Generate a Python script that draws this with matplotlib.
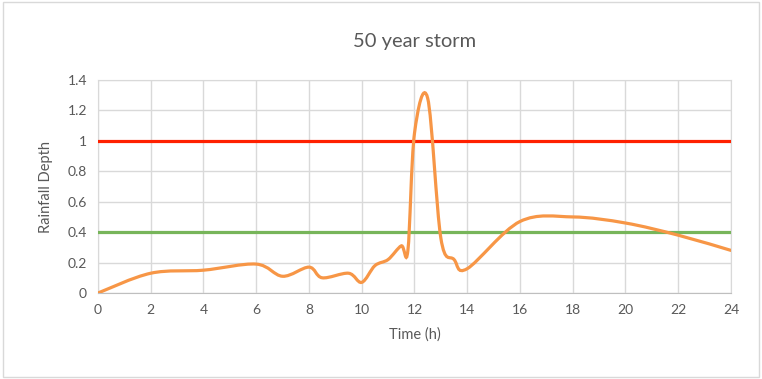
import numpy as np
import matplotlib
matplotlib.use("Agg")
import matplotlib.pyplot as plt
from matplotlib.path import Path
from matplotlib.patches import PathPatch, Rectangle

# rainfall depth per hour (50 year design storm)
hours = [0, 2, 4, 6, 7, 8, 8.5, 9.5, 10, 10.5, 11, 11.5, 11.75, 12, 12.5,
         13, 13.5, 14, 16, 18, 20, 22, 24]
depth = [0, 0.13, 0.15, 0.19, 0.11, 0.17, 0.10, 0.13, 0.07, 0.18, 0.22, 0.31,
         0.28, 1.05, 1.28, 0.36, 0.22, 0.16, 0.47, 0.50, 0.46, 0.38, 0.28]
upper_limit = 1.0
lower_limit = 0.4
x_ticks = list(range(0, 25, 2))
y_ticks = [0, 0.2, 0.4, 0.6, 0.8, 1, 1.2, 1.4]
y_labels = ["0", "0.2", "0.4", "0.6", "0.8", "1", "1.2", "1.4"]

TXT = "#595959"
plt.rcParams["font.family"] = ["Lato", "DejaVu Sans"]


def smooth_path(ax, xs, ys):
    """cubic bezier through the points (catmull-rom style tangents), in pixel space"""
    pts = ax.transData.transform(np.column_stack([xs, ys]))
    n = len(pts)
    verts = [pts[0]]
    codes = [Path.MOVETO]
    for i in range(n - 1):
        p0 = pts[max(i - 1, 0)]
        p1 = pts[i]
        p2 = pts[i + 1]
        p3 = pts[min(i + 2, n - 1)]
        c1 = p1 + (p2 - p0) / 6.0
        c2 = p2 - (p3 - p1) / 6.0
        verts += [c1, c2, p2]
        codes += [Path.CURVE4] * 3
    return Path(verts, codes)


fig = plt.figure(figsize=(7.62, 3.79), dpi=100)
fig.patches.append(Rectangle((0.004, 0.006), 0.992, 0.988, transform=fig.transFigure,
                             fill=False, edgecolor="#D9D9D9", lw=1))
ax = fig.add_axes([0.1286, 0.2269, 0.8307, 0.5620])
ax.set_xlim(0, 24)
ax.set_ylim(0, 1.4)
ax.set_xticks(x_ticks)
ax.set_yticks(y_ticks)
ax.set_yticklabels(y_labels)
ax.grid(True, color="#D9D9D9", lw=1)
ax.set_axisbelow(True)
for s in ["top", "right", "left"]:
    ax.spines[s].set_color("#D9D9D9")
ax.spines["bottom"].set_color("#BFBFBF")
ax.tick_params(length=0, labelsize=10, colors=TXT, pad=8)

ax.axhline(upper_limit, color="#FF2000", lw=2.3, zorder=3)
ax.axhline(lower_limit, color="#77B55A", lw=2.3, zorder=3)

fig.canvas.draw()
ax.add_patch(PathPatch(smooth_path(ax, hours, depth), transform=None, fill=False,
                       edgecolor="#F79646", lw=2.3, zorder=4, capstyle="round"))

ax.set_title("50 year storm", fontsize=14.5, color=TXT, pad=24)
ax.set_xlabel("Time (h)", fontsize=10.5, color=TXT, labelpad=8)
ax.set_ylabel("Rainfall Depth", fontsize=10.5, color=TXT, labelpad=10)

fig.savefig("out.png", dpi=100)
